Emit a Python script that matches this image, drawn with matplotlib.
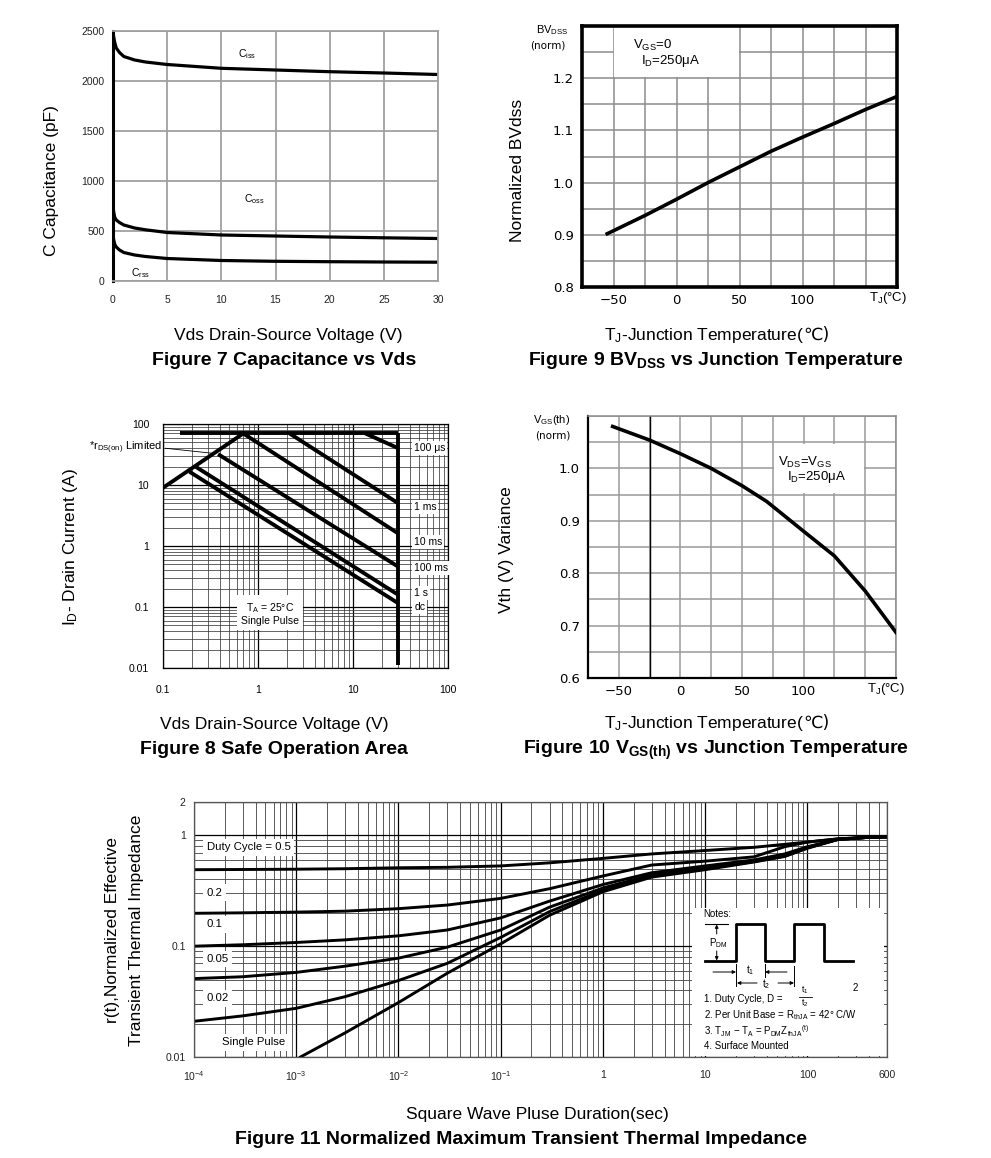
"""
plot.py
datasheet curves, figures 7 to 11.
"""

import numpy as np
import matplotlib
matplotlib.use("Agg")
import matplotlib.pyplot as plt
from matplotlib.patches import Rectangle
from matplotlib.ticker import FixedLocator, FixedFormatter, LogLocator, NullFormatter

plt.rcParams["font.family"] = ["Liberation Sans", "DejaVu Sans"]
plt.rcParams["mathtext.fontset"] = "custom"
plt.rcParams["mathtext.rm"] = "Liberation Sans"
plt.rcParams["mathtext.it"] = "Liberation Sans:italic"
plt.rcParams["mathtext.bf"] = "Liberation Sans:bold"

# ---- figure 7 : capacitance vs Vds
cap_vds = [0, 0.05, 0.15, 0.3, 0.6, 1, 2, 3, 5, 10, 15, 20, 25, 30]
ciss = [2500, 2450, 2390, 2330, 2285, 2245, 2210, 2190, 2165, 2127, 2110, 2093, 2080, 2065]
coss = [780, 700, 640, 610, 585, 560, 530, 512, 485, 460, 450, 440, 432, 425]
crss = [490, 420, 370, 340, 310, 285, 260, 245, 225, 205, 197, 193, 190, 188]

# ---- figure 9 : BVdss vs Tj
bv_tj = [-55, -25, 0, 25, 50, 75, 100, 125, 150, 175]
bv_norm = [0.902, 0.937, 0.968, 1.0, 1.03, 1.06, 1.087, 1.113, 1.14, 1.165]

# ---- figure 10 : Vgs(th) vs Tj
vth_tj = [-55, -25, 0, 25, 50, 70, 100, 125, 150, 175]
vth_norm = [1.08, 1.054, 1.028, 1.0, 0.967, 0.937, 0.88, 0.833, 0.766, 0.687]

# ---- figure 8 : safe operating area
soa_v_max = 30
soa_i_max = 70
soa_i_floor = 0.011
rds_v = [0.1, 0.7]
rds_i = [9, 70]
soa_labels = ["100 \u03bcs", "1 ms", "10 ms", "100 ms", "1 s", "dc"]
soa_v_start = [13.5, 2.15, 0.7, 0.38, 0.22, 0.19]
soa_i_start = [70, 70, 70, 32, 20, 16.5]
soa_i_end = [40, 5.0, 1.6, 0.457, 0.158, 0.115]
soa_label_i = [40.5, 4.35, 1.16, 0.436, 0.17, 0.1]

# ---- figure 11 : transient thermal impedance
zth_t = [1e-4, 3e-4, 1e-3, 3e-3, 1e-2, 3e-2, 0.1, 0.3, 1, 3, 10, 30, 60, 100, 200, 400, 600]
zth_d05 = [0.49, 0.492, 0.495, 0.50, 0.51, 0.515, 0.53, 0.565, 0.62, 0.68, 0.73, 0.78, 0.83, 0.87, 0.93, 0.96, 0.97]
zth_d02 = [0.198, 0.2, 0.203, 0.207, 0.218, 0.235, 0.27, 0.33, 0.43, 0.54, 0.585, 0.64, 0.79, 0.87, 0.93, 0.96, 0.97]
zth_d01 = [0.1, 0.103, 0.108, 0.114, 0.124, 0.14, 0.18, 0.255, 0.36, 0.46, 0.53, 0.60, 0.68, 0.79, 0.92, 0.96, 0.97]
zth_d005 = [0.051, 0.053, 0.058, 0.066, 0.078, 0.098, 0.14, 0.225, 0.335, 0.44, 0.51, 0.585, 0.66, 0.78, 0.92, 0.96, 0.97]
zth_d002 = [0.021, 0.0235, 0.0275, 0.035, 0.049, 0.07, 0.12, 0.205, 0.32, 0.43, 0.50, 0.58, 0.65, 0.77, 0.92, 0.96, 0.97]
zth_single_t = [1.1e-3, 3e-3, 1e-2, 3e-2, 0.1, 0.3, 1, 3, 10, 30, 60, 100, 200, 400, 600]
zth_single = [0.01, 0.0165, 0.031, 0.057, 0.105, 0.19, 0.31, 0.42, 0.49, 0.575, 0.645, 0.765, 0.92, 0.96, 0.97]
zth_labels = ["Duty Cycle = 0.5", "0.2", "0.1", "0.05", "0.02", "Single Pulse"]
zth_label_y = [0.78, 0.304, 0.158, 0.0767, 0.034, 0.0136]

W, H = 991, 1158
fig = plt.figure(figsize=(W / 100, H / 100), dpi=100)
fig.patch.set_facecolor("white")


def add_ax(l, t, r, b):
    return fig.add_axes([l / W, 1 - b / H, (r - l) / W, (b - t) / H])


def ftext(x, y, s, **kw):
    kw.setdefault("ha", "center")
    kw.setdefault("va", "center")
    return fig.text(x / W, 1 - y / H, s, **kw)


def celsius_label(xc, y_base, size):
    # mathtext has no fallback font, so the Celsius sign goes in its own text
    t1 = fig.text(0, 1 - y_base / H, "T$_\\mathregular{J}$-Junction Temperature(",
                  ha="left", va="baseline", fontsize=size)
    t2 = fig.text(0, 1 - y_base / H, "\u2103)", ha="left", va="baseline", fontsize=size,
                  family=["DejaVu Sans"])
    r = fig.canvas.get_renderer()
    w1 = t1.get_window_extent(r).width
    w2 = t2.get_window_extent(r).width
    left = xc - (w1 + w2) / 2
    t1.set_x(left / W)
    t2.set_x((left + w1) / W)


GRAY = "#a0a0a0"
LAB = 12.5
CAP = 14

# ================= Figure 7 =================
ax7 = add_ax(113, 31, 438, 281)
ax7.plot(cap_vds, ciss, color="k", lw=2.3, solid_capstyle="butt")
ax7.plot(cap_vds, coss, color="k", lw=2.3, solid_capstyle="butt")
ax7.plot(cap_vds, crss, color="k", lw=2.3, solid_capstyle="butt")
ax7.set_xlim(0, 30)
ax7.set_ylim(0, 2500)
ax7.set_xticks(range(0, 31, 5))
ax7.set_yticks(range(0, 2501, 500))
ax7.grid(color=GRAY, lw=1.3)
ax7.set_axisbelow(True)
for s in ["top", "right", "bottom"]:
    ax7.spines[s].set_color(GRAY)
    ax7.spines[s].set_linewidth(1.3)
ax7.spines["left"].set_linewidth(2.2)
ax7.tick_params(length=0, labelsize=7.5, colors="#222222")
ax7.tick_params(axis="x", pad=10)
ax7.tick_params(axis="y", pad=6)
ax7.text(11.5, 2270, r"C$_\mathregular{iss}$", fontsize=7.5, va="center")
ax7.text(12.1, 820, r"C$_\mathregular{oss}$", fontsize=7.5, va="center")
ax7.text(1.7, 75, r"C$_\mathregular{rss}$", fontsize=7.5, va="center")

ftext(52, 181, "C Capacitance (pF)", rotation=90, fontsize=LAB)
ftext(288, 336, "Vds Drain-Source Voltage (V)", fontsize=LAB)
ftext(284, 361, "Figure 7 Capacitance vs Vds", fontsize=CAP, fontweight="bold")

# ================= Figure 9 =================
MONO = "DejaVu Sans"
ax9 = add_ax(582, 26, 897, 287)
ax9.set_xlim(-75, 175)
ax9.set_ylim(0.8, 1.3)
xt = np.arange(-75, 176, 25)
ax9.xaxis.set_major_locator(FixedLocator(xt))
ax9.xaxis.set_major_formatter(FixedFormatter(
    ["" if v not in (-50, 0, 50, 100) else f"{v:d}".replace("-", "\u2212") for v in xt]))
yt = np.round(np.arange(0.8, 1.301, 0.05), 2)
ax9.yaxis.set_major_locator(FixedLocator(yt))
ax9.yaxis.set_major_formatter(FixedFormatter(
    [f"{v:.1f}" if (round(v * 10) == v * 10 and v < 1.25) else "" for v in yt]))
ax9.grid(color="#8c8c8c", lw=1.1)
ax9.set_axisbelow(True)
ax9.add_patch(Rectangle((-49.3, 1.202), 98.6, 0.1, fc="white", ec="none", zorder=1))
ax9.plot(bv_tj, bv_norm, color="k", lw=2.6, zorder=3)
for s in ax9.spines.values():
    s.set_linewidth(2.6)
ax9.tick_params(length=0, labelsize=9.5)
ax9.tick_params(axis="x", pad=5)
ax9.tick_params(axis="y", pad=6)
for lab in ax9.get_xticklabels() + ax9.get_yticklabels():
    lab.set_family(MONO)
ax9.text(-34.5, 1.2636, r"V$_\mathregular{GS}$=0", fontsize=9.5, va="center")
ax9.text(-28.2, 1.233, "I$_\\mathregular{D}$=250\u03bcA", fontsize=9.5, va="center")
ftext(536, 30, r"BV$_\mathregular{DSS}$", fontsize=8, ha="left")
ftext(530, 45, "(norm)", fontsize=7.5, family=MONO, ha="left")
ftext(888, 298, "T$_\\mathregular{J}$(\u00b0C)", fontsize=9.5)

ftext(517, 170, "Normalized BVdss", rotation=90, fontsize=LAB)
celsius_label(717, 340, LAB)
ftext(716, 361, r"Figure 9 BV$_\mathbf{DSS}$ vs Junction Temperature", fontsize=CAP, fontweight="bold")

# ================= Figure 8 =================
ax8 = add_ax(163, 424, 448, 668)
ax8.set_xscale("log")
ax8.set_yscale("log")
ax8.set_xlim(0.1, 100)
ax8.set_ylim(0.01, 100)
ax8.xaxis.set_major_locator(FixedLocator([0.1, 1, 10, 100]))
ax8.xaxis.set_major_formatter(FixedFormatter(["0.1", "1", "10", "100"]))
ax8.yaxis.set_major_locator(FixedLocator([0.01, 0.1, 1, 10, 100]))
ax8.yaxis.set_major_formatter(FixedFormatter(["0.01", "0.1", "1", "10", "100"]))
for a in (ax8.xaxis, ax8.yaxis):
    a.set_minor_locator(LogLocator(base=10, subs=np.arange(2, 10)))
    a.set_minor_formatter(NullFormatter())
ax8.grid(which="major", color="k", lw=0.9)
ax8.grid(which="minor", color="#3a3a3a", lw=0.55)
ax8.set_axisbelow(True)
ax8.tick_params(which="both", length=0, labelsize=7.5)
ax8.tick_params(axis="x", pad=12)
ax8.tick_params(axis="y", pad=10)
for s in ax8.spines.values():
    s.set_linewidth(0.9)

LW8 = 2.8
ax8.plot([0.15, soa_v_max], [soa_i_max, soa_i_max], color="k", lw=LW8, solid_capstyle="butt")
ax8.plot([soa_v_max, soa_v_max], [soa_i_floor, soa_i_max], color="k", lw=LW8, solid_capstyle="butt")
ax8.plot(rds_v, rds_i, color="k", lw=LW8)
for v0, i0, i1 in zip(soa_v_start, soa_i_start, soa_i_end):
    ax8.plot([v0, soa_v_max], [i0, i1], color="k", lw=LW8, solid_capstyle="butt")
for lab, yi in zip(soa_labels, soa_label_i):
    ax8.text(44, yi, lab, fontsize=7.5, ha="left", va="center",
             bbox=dict(fc="white", ec="none", pad=1.2))
ax8.text(1.34, 0.079, "T$_\\mathregular{A}$ = 25\u00b0C\nSingle Pulse", fontsize=7.5,
         ha="center", va="center", linespacing=1.1,
         bbox=dict(fc="white", ec="none", pad=3))
ax8.annotate(r"*r$_\mathregular{DS(on)}$ Limited", xy=(0.34, 33), xytext=(0.099, 40.5),
             ha="right", va="center", fontsize=8, annotation_clip=False,
             arrowprops=dict(arrowstyle="-", lw=0.6, color="k", shrinkA=0, shrinkB=0,
                             relpos=(1, 0.5)))

ftext(70, 547, "I$_\\mathregular{D}$- Drain Current (A)", rotation=90, fontsize=LAB)
ftext(274, 724, "Vds Drain-Source Voltage (V)", fontsize=LAB)
ftext(274, 750, "Figure 8 Safe Operation Area", fontsize=CAP, fontweight="bold")

# ================= Figure 10 =================
ax10 = add_ax(588, 416, 896, 678)
ax10.set_xlim(-75, 175)
ax10.set_ylim(0.6, 1.1)
ax10.xaxis.set_major_locator(FixedLocator(xt))
ax10.xaxis.set_major_formatter(FixedFormatter(
    ["" if v not in (-50, 0, 50, 100) else f"{v:d}".replace("-", "\u2212") for v in xt]))
yt10 = np.round(np.arange(0.6, 1.101, 0.05), 2)
ax10.yaxis.set_major_locator(FixedLocator(yt10))
ax10.yaxis.set_major_formatter(FixedFormatter(
    [f"{v:.1f}" if (round(v * 10) == v * 10 and v < 1.05) else "" for v in yt10]))
ax10.grid(color="#9a9a9a", lw=1.1)
ax10.set_axisbelow(True)
ax10.axvline(-25, color="k", lw=1.0, zorder=0.8)
ax10.add_patch(Rectangle((75.6, 0.953), 73.8, 0.094, fc="white", ec="none", zorder=1))
ax10.plot(vth_tj, vth_norm, color="k", lw=2.6, zorder=3)
for s in ["top", "right"]:
    ax10.spines[s].set_color("#8c8c8c")
    ax10.spines[s].set_linewidth(1.1)
for s in ["left", "bottom"]:
    ax10.spines[s].set_linewidth(1.6)
ax10.tick_params(length=0, labelsize=9.5)
ax10.tick_params(axis="x", pad=5)
ax10.tick_params(axis="y", pad=6)
for lab in ax10.get_xticklabels() + ax10.get_yticklabels():
    lab.set_family(MONO)
ax10.text(78.9, 1.012, r"V$_\mathregular{DS}$=V$_\mathregular{GS}$", fontsize=9.5, va="center")
ax10.text(86.2, 0.984, "I$_\\mathregular{D}$=250\u03bcA", fontsize=9.5, va="center")
ftext(533, 420, r"V$_\mathregular{GS}$(th)", fontsize=8, ha="left")
ftext(535, 435, "(norm)", fontsize=7.5, family=MONO, ha="left")
ftext(886, 689, "T$_\\mathregular{J}$(\u00b0C)", fontsize=9.5)

ftext(507, 550, "Vth (V) Variance", rotation=90, fontsize=LAB)
celsius_label(717, 728, LAB)
ftext(716, 750, r"Figure 10 V$_\mathbf{GS(th)}$ vs Junction Temperature", fontsize=CAP, fontweight="bold")

# ================= Figure 11 =================
ax11 = add_ax(194, 802, 887, 1057)
ax11.set_xscale("log")
ax11.set_yscale("log")
ax11.set_xlim(1e-4, 600)
ax11.set_ylim(0.01, 2)
ax11.xaxis.set_major_locator(FixedLocator([1e-4, 1e-3, 1e-2, 1e-1, 1, 10, 100, 600]))
ax11.xaxis.set_major_formatter(FixedFormatter(
    [r"10$^{-4}$", r"10$^{-3}$", r"10$^{-2}$", r"10$^{-1}$", "1", "10", "100", "600"]))
ax11.yaxis.set_major_locator(FixedLocator([0.01, 0.1, 1, 2]))
ax11.yaxis.set_major_formatter(FixedFormatter(["0.01", "0.1", "1", "2"]))
for a in (ax11.xaxis, ax11.yaxis):
    a.set_minor_locator(LogLocator(base=10, subs=np.arange(2, 10)))
    a.set_minor_formatter(NullFormatter())
ax11.grid(which="major", color="k", lw=0.9)
ax11.grid(which="minor", color="#404040", lw=0.6)
ax11.set_axisbelow(True)
ax11.tick_params(which="both", length=0, labelsize=7.5, colors="#222222")
ax11.tick_params(axis="x", pad=9)
ax11.tick_params(axis="y", pad=6)
for s in ax11.spines.values():
    s.set_color("#555555")
    s.set_linewidth(0.9)

for ys in (zth_d05, zth_d02, zth_d01, zth_d005, zth_d002):
    ax11.plot(zth_t, ys, color="k", lw=2.1)
ax11.plot(zth_single_t, zth_single, color="k", lw=2.1)
for lab, yl in zip(zth_labels, zth_label_y):
    xl = 1.87e-4 if lab == "Single Pulse" else 1.33e-4
    ax11.text(xl, yl, lab, fontsize=8.2, ha="left", va="center",
              bbox=dict(fc="white", ec="none", pad=2.5))

# notes box (pixel coordinates)
axn = add_ax(692, 908, 884, 1056)
axn.set_xlim(692, 884)
axn.set_ylim(1056, 908)
axn.set_facecolor("white")
axn.set_xticks([])
axn.set_yticks([])
for s in axn.spines.values():
    s.set_visible(False)
NF = 7
axn.text(703, 914, "Notes:", fontsize=NF, va="center")
axn.plot([705, 736, 736, 765, 765, 794, 794, 824, 824, 853],
         [960.7, 960.7, 924, 924, 960.7, 960.7, 924, 924, 960.7, 960.7],
         color="k", lw=2.0)
axn.plot([705, 728], [924, 924], color="k", lw=0.8)
arr = dict(arrowstyle="-|>", lw=0.7, color="k", mutation_scale=5, shrinkA=0, shrinkB=0)
axn.annotate("", xy=(716.7, 924.5), xytext=(716.7, 934), arrowprops=arr)
axn.annotate("", xy=(716.7, 960.5), xytext=(716.7, 951), arrowprops=arr)
axn.text(718, 943, r"P$_\mathregular{DM}$", fontsize=NF, ha="center", va="center")
axn.plot([736, 736], [964, 986], color="k", lw=0.7)
axn.plot([765, 765], [964, 977], color="k", lw=0.7)
axn.plot([794, 794], [966, 986], color="k", lw=0.7)
axn.annotate("", xy=(736, 972), xytext=(713, 972), arrowprops=arr)
axn.annotate("", xy=(765, 972), xytext=(787, 972), arrowprops=arr)
axn.text(750, 970, r"t$_\mathregular{1}$", fontsize=NF, ha="center", va="center")
axn.annotate("", xy=(737, 983), xytext=(757, 983), arrowprops=arr)
axn.annotate("", xy=(794, 983), xytext=(778, 983), arrowprops=arr)
axn.text(766, 984, r"t$_\mathregular{2}$", fontsize=NF, ha="center", va="center")
axn.text(855, 988, "2", fontsize=NF, ha="center", va="center")
axn.text(704, 999, "1. Duty Cycle, D =", fontsize=NF, va="center")
axn.text(805, 990, r"t$_\mathregular{1}$", fontsize=6.3, ha="center", va="center")
axn.plot([799, 812], [996.5, 996.5], color="k", lw=0.6)
axn.text(805, 1003, r"t$_\mathregular{2}$", fontsize=6.3, ha="center", va="center")
axn.text(704, 1015, "2. Per Unit Base = R$_\\mathregular{thJA}$ = 42\u00b0 C/W", fontsize=NF, va="center")
axn.text(704, 1031, "3. T$_\\mathregular{JM}$ \u2212 T$_\\mathregular{A}$ = P$_\\mathregular{DM}$Z$_\\mathregular{thJA}$$^\\mathregular{(t)}$",
         fontsize=NF, va="center")
axn.text(704, 1046, "4. Surface Mounted", fontsize=NF, va="center")

ftext(113, 930, "r(t),Normalized Effective", rotation=90, fontsize=LAB)
ftext(137, 930, "Transient Thermal Impedance", rotation=90, fontsize=LAB)
ftext(537, 1114, "Square Wave Pluse Duration(sec)", fontsize=LAB)
ftext(521, 1140, "Figure 11 Normalized Maximum Transient Thermal Impedance", fontsize=CAP,
      fontweight="bold")

fig.savefig("out.png", dpi=100)
